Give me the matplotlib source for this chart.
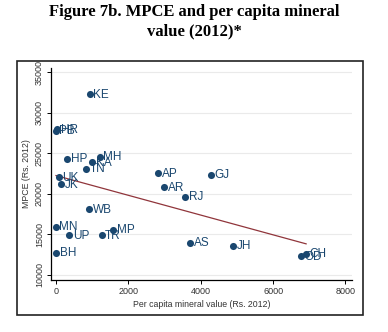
import matplotlib.pyplot as plt
from matplotlib.patches import Rectangle
import numpy as np

# states and their values
states = ['KE', 'HR', 'PB', 'HP', 'MH', 'KA', 'TN', 'UK', 'JK', 'AP', 'AR', 'RJ', 'GJ',
          'WB', 'MN', 'UP', 'TR', 'MP', 'BH', 'AS', 'JH', 'CH', 'OD']
mineral = np.array([940, 40, 0, 313, 1216, 1004, 830, 83, 138, 2830, 2995, 3576, 4285,
                    912, 0, 368, 1262, 1585, 10, 3705, 4902, 6912, 6783])
mpce = np.array([32300, 27940, 27770, 24320, 24570, 23880, 23100, 22030, 21200, 22560,
                 20840, 19640, 22350, 18130, 15950, 14930, 14930, 15580, 12750, 13980,
                 13610, 12620, 12340])
xticks = [0, 2000, 4000, 6000, 8000]
yticks = [10000, 15000, 20000, 25000, 30000, 35000]

navy = '#1a476f'
maroon = '#90353b'

fig = plt.figure(figsize=(3.88, 3.32), dpi=100)
fig.patch.set_facecolor('white')

# outer graph box
fig.patches.append(Rectangle((17 / 388, 1 - 315 / 332), 346 / 388, 254 / 332,
                             transform=fig.transFigure, fill=False,
                             edgecolor='#222222', linewidth=1.2))

fig.text(0.5, 0.988, 'Figure 7b. MPCE and per capita mineral\nvalue (2012)*',
         ha='center', va='top', fontsize=12, fontweight='bold',
         family='Liberation Serif', linespacing=1.3)

ax = fig.add_axes([51 / 388, 1 - 280 / 332, 301 / 388, 212 / 332])
ax.set_xlim(-138, 8180)
ax.set_ylim(9380, 35500)

for y in yticks:
    ax.axhline(y, color='#eaeaea', lw=0.8, zorder=0)

ax.scatter(mineral, mpce, s=26, color=navy, zorder=3, linewidths=0)
for s, x, y in zip(states, mineral, mpce):
    ax.annotate(s, (x, y), xytext=(2.5, -0.5), textcoords='offset points',
                va='center', ha='left', fontsize=8.5, color=navy,
                family='Liberation Sans')

# linear fit
slope, icpt = np.polyfit(mineral, mpce, 1)
xs = np.array([mineral.min(), mineral.max()])
ax.plot(xs, icpt + slope * xs, color=maroon, lw=0.9, zorder=2)

ax.set_xticks(xticks)
ax.set_yticks(yticks)
ax.set_xticklabels([str(t) for t in xticks], fontsize=6.5, family='Liberation Sans', color='#333333')
ax.set_yticklabels([str(t) for t in yticks], fontsize=6.5, family='Liberation Sans',
                   color='#333333', rotation=90, va='center')
ax.tick_params(length=3, width=0.7, pad=2)
ax.set_xlabel('Per capita mineral value (Rs. 2012)', fontsize=6.3,
              family='Liberation Sans', color='#333333', labelpad=3)
ax.set_ylabel('MPCE (Rs. 2012)', fontsize=6.3, family='Liberation Sans',
              color='#333333', labelpad=3)
for side in ['top', 'right']:
    ax.spines[side].set_visible(False)
for side in ['left', 'bottom']:
    ax.spines[side].set_linewidth(0.9)

fig.savefig('out.png', dpi=100)
